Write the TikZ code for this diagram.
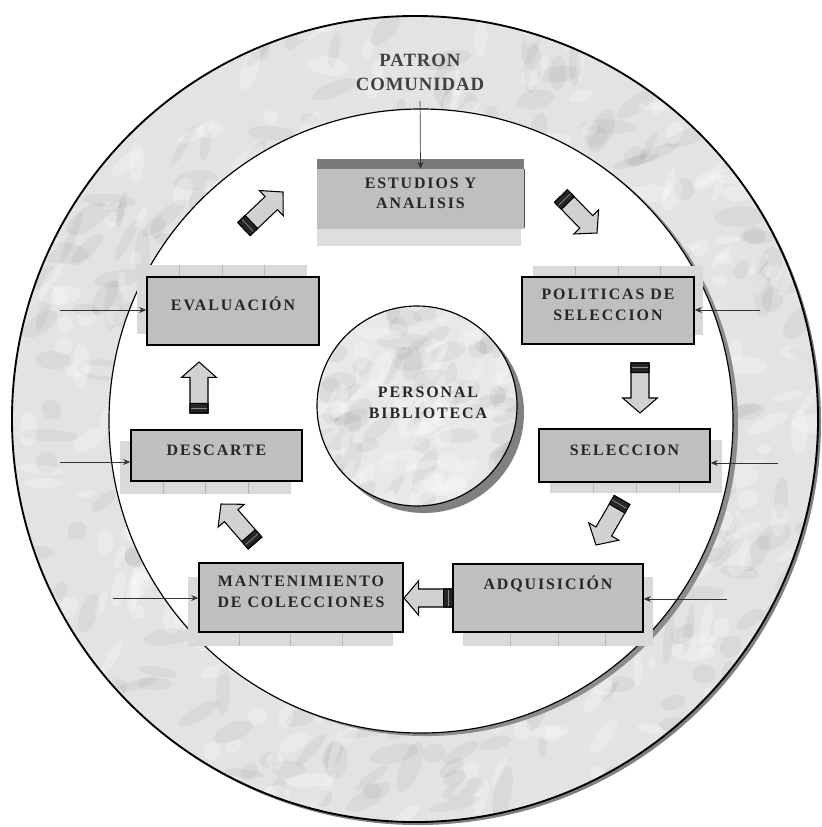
\documentclass[tikz,border=0pt]{standalone}
\usepackage{fontspec}
\setmainfont{Liberation Serif}
\newfontfamily\lblfont[LetterSpace=12]{Liberation Serif}
\newfontfamily\ttlfont[LetterSpace=5]{Liberation Serif}
\usetikzlibrary{calc,arrows.meta,fit}

\tikzset{
  x=0.03cm, y=-0.03cm,
  mainbox/.style={draw=black, line width=1.3pt, fill=black!25, inner sep=0pt,
    font=\lblfont\bfseries\fontsize{13.6}{18}\selectfont, align=center, text=black!85},
  boxtext/.style={font=\lblfont\bfseries\fontsize{13.6}{18}\selectfont, align=center, text=black!85, inner sep=0pt},
  backplate/.style={fill=black!15},
  feed/.style={draw=black!80, line width=0.6pt, -{Stealth[length=6pt,width=5pt]}},
  blk/.style={fill=black!18, draw=black, line width=0.9pt, line join=miter},
  blkband/.style={fill=black!85, draw=black, line width=0.9pt},
}

\newcommand{\backplate}[4]{%
  \fill[backplate] (#1,#2) rectangle (#3,#4);
  \foreach \f in {0.25,0.5,0.75}
    \draw[black!28, line width=0.4pt] ({#1+\f*(#3-#1)},#2) -- ({#1+\f*(#3-#1)},#4);
}

\newcommand{\blockarrow}[2]{%
  \path (#1) coordinate (bT) (#2) coordinate (bH);
  \path ($(bT)!0.70!(bH)$) coordinate (bC) ($(bT)!0.19!(bH)$) coordinate (bB)
        ($(bT)!0.095!(bH)$) coordinate (bM);
  \filldraw[blk] ($(bT)!0.27cm!90:(bH)$) -- ($(bC)!0.27cm!90:(bH)$)
     -- ($(bC)!0.52cm!90:(bH)$) -- (bH) -- ($(bC)!0.52cm!-90:(bH)$)
     -- ($(bC)!0.27cm!-90:(bH)$) -- ($(bT)!0.27cm!-90:(bH)$) -- cycle;
  \filldraw[blkband] ($(bT)!0.27cm!90:(bH)$) -- ($(bB)!0.27cm!90:(bH)$)
     -- ($(bB)!0.27cm!-90:(bH)$) -- ($(bT)!0.27cm!-90:(bH)$) -- cycle;
  \draw[black!45, line width=0.6pt] ($(bM)!0.25cm!90:(bH)$) -- ($(bM)!0.25cm!-90:(bH)$);
}

% marble mottling inside a circle: centre x, centre y, radius (px), count
\newcommand{\marble}[4]{%
  \foreach \i in {1,...,#4}{
    \pgfmathsetmacro\xx{#1+#3*rand}
    \pgfmathsetmacro\yy{#2+#3*rand}
    \pgfmathsetmacro\aa{40+50*rand}
    \pgfmathsetmacro\rx{0.25+0.6*rnd}
    \pgfmathsetmacro\ry{0.12+0.22*rnd}
    \fill[black, opacity=0.045, shift={(\xx,\yy)}, rotate=\aa] (0,0) ellipse[x radius=\rx cm, y radius=\ry cm];
  }
  \foreach \i in {1,...,#4}{
    \pgfmathsetmacro\xx{#1+#3*rand}
    \pgfmathsetmacro\yy{#2+#3*rand}
    \pgfmathsetmacro\aa{40+50*rand}
    \pgfmathsetmacro\rx{0.2+0.5*rnd}
    \pgfmathsetmacro\ry{0.1+0.2*rnd}
    \fill[white, opacity=0.25, shift={(\xx,\yy)}, rotate=\aa] (0,0) ellipse[x radius=\rx cm, y radius=\ry cm];
  }
}

\begin{document}
\begin{tikzpicture}
\useasboundingbox (0,0) rectangle (822,827);

% ---------- outer marble ring ----------
\fill[black!50] (418,422) circle[radius=12.09cm];
\pgfmathsetseed{42}
\begin{scope}
  \clip (415,419) circle[radius=12.09cm];
  \fill[black!11] (0,0) rectangle (822,827);
  \marble{415}{419}{400}{420}
\end{scope}
\draw[black, line width=1.6pt] (415,419) circle[radius=12.09cm];

% ---------- inner white disc ----------
\fill[black!45] (426,424) circle[radius=9.36cm];
\filldraw[fill=white, draw=black, line width=1pt] (421,421) circle[radius=9.36cm];

% ---------- back plates ----------
\backplate{137}{265}{307}{334}
\backplate{533}{266}{703}{335}
\backplate{120}{441}{291}{494}
\backplate{550}{440}{722}{493}
\backplate{463}{577}{653}{646}
\backplate{188}{577}{393}{646}

% ---------- ESTUDIOS Y ANALISIS plate ----------
\fill[black!13] (317,229) rectangle (521,246);
\fill[black!52] (317,159) rectangle (524,169);
\fill[black!25] (317,169) rectangle (524,229);
\draw[black!70, line width=0.8pt] (524,169) -- (524,228);
\node[boxtext, fit={(317,169)(524,229)}, font=\lblfont\bfseries\fontsize{13.6}{17}\selectfont] (est) {ESTUDIOS Y\\ANALISIS};

% ---------- main boxes ----------
\node[mainbox, fit={(147,277)(319,345)}] (eval) {EVALUACIÓN};
\node[mainbox, fit={(522,277)(694,344)}] (pol) {POLITICAS DE\\SELECCION};
\node[mainbox, fit={(131,430)(302,481)}] (desc) {DESCARTE};
\node[mainbox, fit={(539,429)(710,482)}] (sel) {SELECCION};
\node[mainbox, fit={(453,564)(643,632)}] (adq) {};
\node[boxtext] (adqtext) at (548,584) {ADQUISICIÓN};
\node[mainbox, fit={(199,563)(403,632)}] (man) {MANTENIMIENTO\\DE COLECCIONES};

% ---------- central marble disc ----------
\fill[black!50] (424,413) circle[radius=3.0cm];
\begin{scope}
  \clip (417,406) circle[radius=3.0cm];
  \fill[black!9] (300,290) rectangle (530,520);
  \marble{417}{406}{100}{60}
\end{scope}
\draw[black, line width=1pt] (417,406) circle[radius=3.0cm];
\node[boxtext] (pers) at (428,403) {PERSONAL\\BIBLIOTECA};

% ---------- title ----------
\node[font=\ttlfont\bfseries\fontsize{16}{20.5}\selectfont, align=center, text=black!75, inner sep=0pt] (patron) at (420,72) {PATRON\\COMUNIDAD};

% ---------- feed arrows ----------
\coordinate (fEval) at (60,310);
\coordinate (fDesc) at (60,462);
\coordinate (fMan) at (113,598);
\coordinate (fPol) at (760,310);
\coordinate (fSel) at (778,463);
\coordinate (fAdq) at (727,599);
\draw[feed, shorten <=9pt] (patron.south) -- (est.north);
\draw[feed] (fEval) -- (fEval -| eval.west);
\draw[feed] (fDesc) -- (fDesc -| desc.west);
\draw[feed] (fMan) -- (fMan -| man.west);
\draw[feed] (fPol) -- (fPol -| pol.east);
\draw[feed] (fSel) -- (fSel -| sel.east);
\draw[feed] (fAdq) -- (fAdq -| adq.east);

% ---------- cycle block arrows ----------
\coordinate (a1t) at (244,229); \coordinate (a1h) at (283,192);
\coordinate (a2t) at (561,196); \coordinate (a2h) at (597,233);
\coordinate (a3t) at (640,363); \coordinate (a3h) at (640,413);
\coordinate (a4t) at (622,500); \coordinate (a4h) at (596,545);
\coordinate (a5t) at (453,598); \coordinate (a5h) at (404,598);
\coordinate (a6t) at (255,543); \coordinate (a6h) at (221,504);
\coordinate (a7t) at (199,413); \coordinate (a7h) at (199,362);
\blockarrow{a1t}{a1h}
\blockarrow{a2t}{a2h}
\blockarrow{a3t}{a3h}
\blockarrow{a4t}{a4h}
\blockarrow{a5t}{a5h}
\blockarrow{a6t}{a6h}
\blockarrow{a7t}{a7h}
\end{tikzpicture}
\end{document}
